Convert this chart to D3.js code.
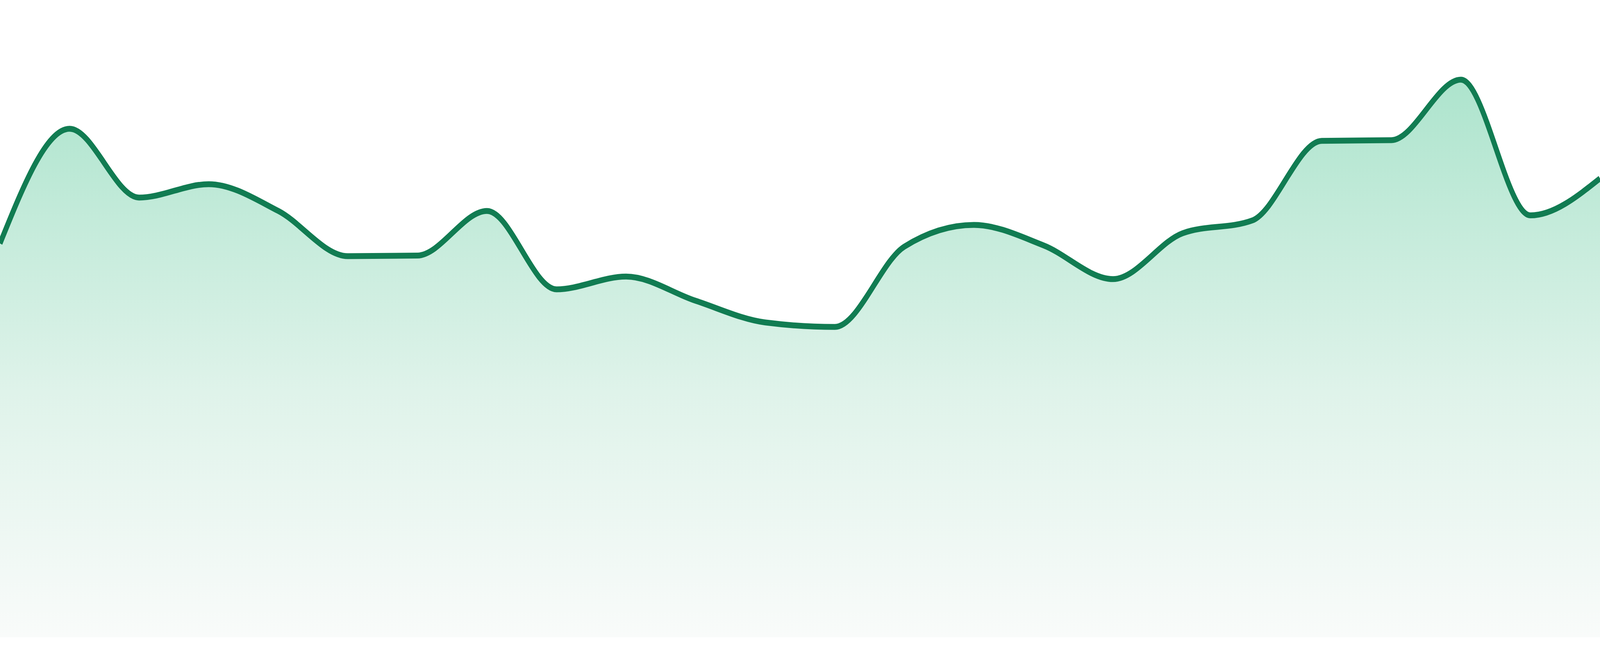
<!DOCTYPE html>
<html>
<head>
<meta charset="utf-8">
<script src="https://cdn.jsdelivr.net/npm/d3@7"></script>
<style>
  html, body { margin: 0; padding: 0; background: #fff; overflow: hidden; }
  #chart { width: 100vw; height: 100vh; }
  svg { display: block; width: 100%; height: 100%; }
</style>
</head>
<body>
<div id="chart"></div>
<script>
const width = 4800;
const height = 1680;
const plotBottom = 1632;

// one value per step
const steps = d3.range(24);
const values = [61.8, 79.8, 69.0, 71.1, 66.9, 59.8, 59.9, 66.9, 54.6, 56.6, 52.8, 49.4,
                48.7, 61.3, 64.7, 61.5, 56.2, 63.4, 65.4, 77.9, 78.0, 87.5, 66.2, 72.0];

const lineColor = "#117c52";

const x = d3.scaleLinear().domain([0, steps.length - 1]).range([0, width]);
const y = d3.scaleLinear().domain([0, 100]).range([plotBottom, 0]);

// drawn in a fixed 4800x1680 box, stretched to whatever the window really is
const svg = d3.select("#chart")
  .append("svg")
  .attr("viewBox", `0 0 ${width} ${height}`)
  .attr("preserveAspectRatio", "none");

const grad = svg.append("defs")
  .append("linearGradient")
  .attr("id", "fillGrad")
  .attr("gradientUnits", "userSpaceOnUse")
  .attr("x1", 0).attr("x2", 0)
  .attr("y1", y(d3.max(values)))
  .attr("y2", y(0));

grad.append("stop").attr("offset", "0%").attr("stop-color", "#ade4cd");
grad.append("stop").attr("offset", "56%").attr("stop-color", "#dff3ea");
grad.append("stop").attr("offset", "100%").attr("stop-color", "#f9fbfa");

const area = d3.area()
  .x((d, i) => x(steps[i]))
  .y0(y(0))
  .y1((d) => y(d))
  .curve(d3.curveMonotoneX);

const line = d3.line()
  .x((d, i) => x(steps[i]))
  .y((d) => y(d))
  .curve(d3.curveMonotoneX);

svg.append("path")
  .datum(values)
  .attr("fill", "url(#fillGrad)")
  .attr("d", area);

svg.append("path")
  .datum(values)
  .attr("fill", "none")
  .attr("stroke", lineColor)
  .attr("stroke-width", 15)
  .attr("stroke-linejoin", "round")
  .attr("stroke-linecap", "butt")
  .attr("d", line);
</script>
</body>
</html>
